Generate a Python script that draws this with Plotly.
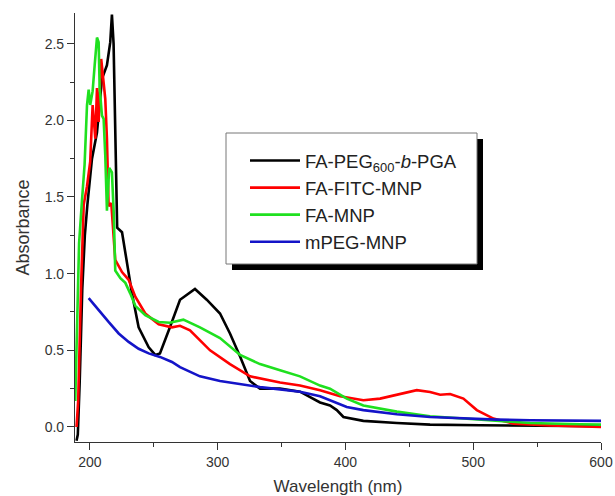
import plotly.graph_objects as go

# ---- data ----
wl_black = [189.5, 190.5, 192, 194, 196, 198, 201.6, 205.5, 209.4, 213.3, 215.9, 217.2,
            218.5, 219.5, 220.5, 221.3, 225.1, 229, 232.9, 238.1, 246, 251.1, 254.8, 262.6,
            270.5, 282.2, 291.4, 301.8, 309.6, 317.5, 325.3, 333.1, 348.8, 364.4, 380.1,
            387.9, 393.2, 398.4, 414, 440.2, 466.2, 505.4, 544.6, 583.7, 600]
abs_black = [-0.09, -0.05, 0.3, 0.9, 1.25, 1.45, 1.75, 1.92, 2.27, 2.36, 2.51, 2.69,
             2.5, 2.0, 1.55, 1.30, 1.27, 1.07, 0.87, 0.65, 0.52, 0.47, 0.48, 0.65,
             0.83, 0.90, 0.83, 0.74, 0.61, 0.46, 0.30, 0.25, 0.25, 0.23, 0.16,
             0.14, 0.11, 0.065, 0.04, 0.026, 0.015, 0.011, 0.007, 0.005, 0.005]

wl_red = [189.5, 190.8, 193, 195.1, 197.7, 200.2, 202.1, 204.2, 205.5, 206.8, 208.8, 210.7,
          212, 213.3, 214.6, 216.7, 218.6, 219.8, 225.1, 230.3, 235.5, 243.3, 253.8, 264.2,
          270.5, 278.3, 294, 309.6, 325.3, 348.8, 364.4, 380.1, 395.8, 414, 427.1, 440.2,
          455.8, 466.2, 474.1, 481.9, 492.3, 502.8, 515.8, 531.5, 560, 600]
abs_red = [0.0, 0.17, 0.9, 1.45, 1.57, 1.73, 2.10, 1.88, 2.21, 1.99, 2.40, 2.25,
           2.14, 1.88, 1.44, 1.46, 1.20, 1.09, 1.01, 0.96, 0.85, 0.74, 0.67, 0.65,
           0.66, 0.63, 0.50, 0.41, 0.33, 0.29, 0.27, 0.24, 0.20, 0.174, 0.185, 0.21,
           0.24, 0.228, 0.21, 0.215, 0.185, 0.11, 0.055, 0.022, 0.01, 0.0]

wl_green = [188.5, 190, 191.5, 193.7, 195.8, 197.7, 199, 200.2, 202.1, 203.7, 205.5, 206.8,
            207.6, 209.4, 210.7, 212, 213.3, 215.1, 217.2, 218.6, 219.8, 223.8, 227.7, 231.6,
            235.5, 243.3, 253.8, 262.6, 273.1, 286.1, 301.8, 317.5, 333.1, 348.8, 364.4,
            380.1, 387.9, 401, 414, 440.2, 466.2, 492.3, 518.5, 544.6, 583.7, 600]
abs_green = [0.17, 0.7, 1.2, 1.47, 1.71, 2.10, 2.20, 2.10, 2.19, 2.36, 2.54, 2.51,
             2.21, 2.03, 2.01, 1.77, 1.41, 1.69, 1.66, 1.40, 1.02, 0.97, 0.94, 0.87,
             0.79, 0.73, 0.685, 0.68, 0.70, 0.65, 0.58, 0.47, 0.41, 0.37, 0.33,
             0.27, 0.25, 0.185, 0.14, 0.10, 0.07, 0.055, 0.04, 0.026, 0.018, 0.015]

wl_blue = [199, 206.8, 214.6, 222.5, 230.3, 238.1, 246, 254.8, 264.2, 270.5, 286.1, 301.8,
           317.5, 333.1, 348.8, 364.4, 380.1, 387.9, 401, 414, 440.2, 466.2, 492.3, 518.5,
           544.6, 583.7, 600]
abs_blue = [0.84, 0.76, 0.685, 0.61, 0.555, 0.51, 0.48, 0.457, 0.424, 0.39, 0.33, 0.30,
            0.28, 0.26, 0.245, 0.23, 0.20, 0.174, 0.13, 0.11, 0.083, 0.065, 0.055, 0.048,
            0.044, 0.04, 0.04]

series_names = ["FA-PEG<sub>600</sub>-<i>b</i>-PGA", "FA-FITC-MNP", "FA-MNP", "mPEG-MNP"]
series_colors = ["#000000", "#ff0000", "#1fe01f", "#1414c8"]
x_ticks = [200, 300, 400, 500, 600]
y_ticks = [0.0, 0.5, 1.0, 1.5, 2.0, 2.5]

# ---- figure ----
fig = go.Figure()
for wl, ab, name, col in zip([wl_black, wl_red, wl_green, wl_blue],
                             [abs_black, abs_red, abs_green, abs_blue],
                             series_names, series_colors):
    fig.add_trace(go.Scatter(x=wl, y=ab, mode="lines", name=name,
                             line=dict(color=col, width=2.6)))

W, H = 615, 496
ml, mr, mt, mb = 75, 14, 13, 54
pw, ph = W - ml - mr, H - mt - mb

def px2paper(x, y):
    return (x - ml) / pw, (H - mb - y) / ph

# legend box (frame + drop shadow)
bx0, by0, bx1, by1 = 226, 133, 477, 264
sx0, sy0 = px2paper(bx0 + 6, by1 + 6)
sx1, sy1 = px2paper(bx1 + 6, by0 + 6)
fx0, fy0 = px2paper(bx0, by1)
fx1, fy1 = px2paper(bx1, by0)
shapes = [
    dict(type="rect", xref="paper", yref="paper", x0=sx0, y0=sy0, x1=sx1, y1=sy1,
         fillcolor="#000000", line=dict(width=0), layer="above"),
    dict(type="rect", xref="paper", yref="paper", x0=fx0, y0=fy0, x1=fx1, y1=fy1,
         fillcolor="#ffffff", line=dict(color="#777777", width=1), layer="above"),
]
lx, ly = px2paper(245, 142)

font_family = "Liberation Sans, Arial, sans-serif"
fig.update_layout(
    width=W, height=H,
    margin=dict(l=ml, r=mr, t=mt, b=mb, autoexpand=False),
    paper_bgcolor="white", plot_bgcolor="white",
    font=dict(family=font_family, color="#333333", size=14),
    shapes=shapes,
    showlegend=True,
    legend=dict(x=lx, y=ly, xanchor="left", yanchor="top",
                bgcolor="rgba(0,0,0,0)", borderwidth=0,
                font=dict(size=18.5, color="#222222", family=font_family),
                itemwidth=50, tracegroupgap=0),
    xaxis=dict(range=[188.3, 600], tickvals=x_ticks, ticks="outside", ticklen=7,
               tickcolor="#333333", showline=True, linecolor="#333333", linewidth=1.2,
               showgrid=False, zeroline=False, mirror=False, automargin=False,
               minor=dict(dtick=50, tick0=200, ticks="outside", ticklen=4, tickcolor="#333333"),
               title=dict(text="Wavelength (nm)", font=dict(size=17), standoff=12),
               tickfont=dict(size=14)),
    yaxis=dict(range=[-0.098, 2.70], tickvals=y_ticks, tickformat=".1f", ticks="outside",
               ticklen=7, tickcolor="#333333", showline=True, linecolor="#333333",
               linewidth=1.2, showgrid=False, zeroline=False, mirror=False, automargin=False,
               minor=dict(dtick=0.25, tick0=0, ticks="outside", ticklen=4, tickcolor="#333333"),
               title=dict(text="Absorbance", font=dict(size=18), standoff=10),
               tickfont=dict(size=14)),
)

fig.write_html(
    "out.html",
    config={"displayModeBar": False},
    post_script="document.body.style.margin='0';document.body.style.overflow='hidden';",
)
